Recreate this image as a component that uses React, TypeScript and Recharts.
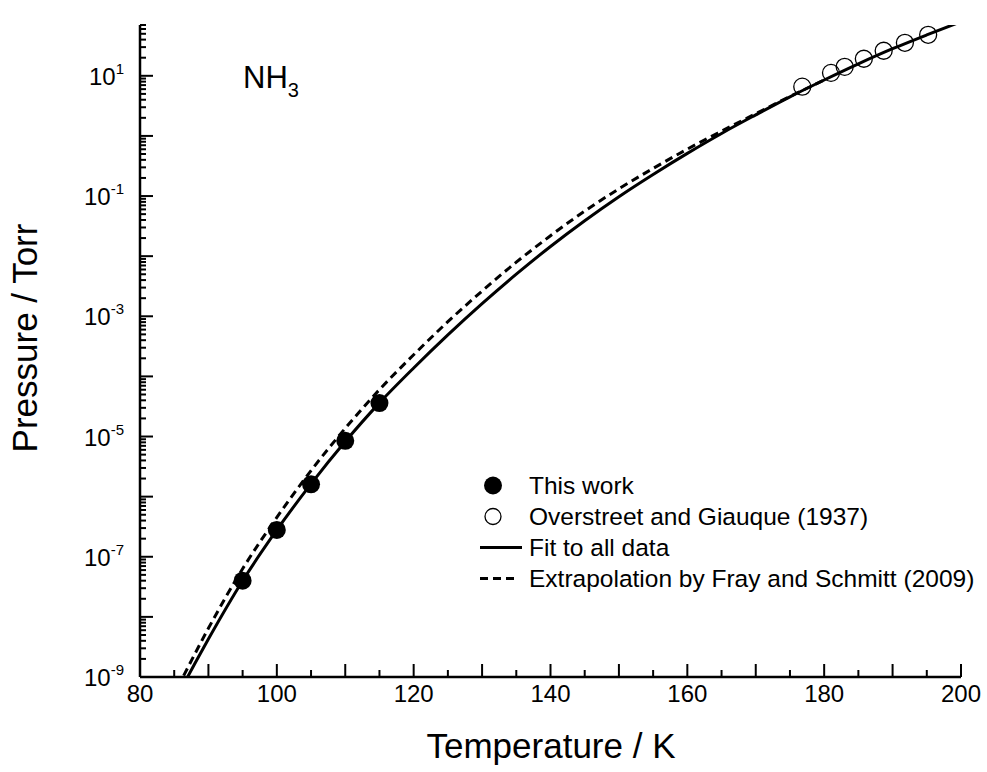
import {
  ComposedChart,
  Customized,
  Legend,
  Line,
  Scatter,
  XAxis,
  YAxis,
} from "recharts";

const FONT = "'Liberation Sans', Arial, Helvetica, sans-serif";

// fit to all data
const fitT = [86, 88, 90, 95, 100, 105, 110, 115, 120, 125, 130, 135, 140, 145, 150, 155, 160, 165, 170, 175, 180, 185, 190, 195, 200];
const fitP = [
  6.3e-10, 1.66e-9, 4.27e-9, 3.98e-8, 2.79e-7, 1.63e-6, 8.24e-6, 3.63e-5, 1.38e-4, 4.9e-4, 1.62e-3, 5.01e-3,
  1.45e-2, 3.89e-2, 9.77e-2, 0.229, 0.513, 1.1, 2.24, 4.47, 8.51, 15.8, 28.2, 47.9, 79.4,
];

// Fray and Schmitt (2009) extrapolation
const frayT = [85.5, 86, 88, 90, 95, 100, 105, 110, 115, 120, 125, 130, 135, 140, 145, 150, 155, 160, 165, 170, 175, 180];
const frayP = [
  6.8e-10, 8.7e-10, 2.4e-9, 6.46e-9, 6.31e-8, 4.52e-7, 2.71e-6, 1.37e-5, 6.03e-5, 2.29e-4, 8.13e-4, 2.63e-3,
  7.94e-3, 2.19e-2, 5.62e-2, 0.132, 0.288, 0.603, 1.2, 2.34, 4.52, 8.51,
];

const thisWorkT = [95, 100, 105, 110, 115];
const thisWorkP = [4.0e-8, 2.8e-7, 1.6e-6, 8.5e-6, 3.6e-5];

const overstreetT = [176.8, 181.0, 183.0, 185.8, 188.7, 191.8, 195.2];
const overstreetP = [6.6, 11.2, 14.1, 19.2, 26.1, 35.4, 48.1];

const xTicks = [80, 85, 90, 95, 100, 105, 110, 115, 120, 125, 130, 135, 140, 145, 150, 155, 160, 165, 170, 175, 180, 185, 190, 195, 200];
const xLabelled = [80, 100, 120, 140, 160, 180, 200];
const yDecades = [-9, -8, -7, -6, -5, -4, -3, -2, -1, 0, 1];
const yLabelled = [-9, -7, -5, -3, -1, 1];
const yMax = 70;

const yTicks: number[] = [];
yDecades.forEach((e) => {
  for (let m = 1; m <= 9; m++) {
    const v = m * Math.pow(10, e);
    if (v <= yMax) yTicks.push(v);
  }
});

const pairs = (ts: number[], ps: number[]) => ts.map((T, i) => ({ T, P: ps[i] }));

const legendRows = [
  { label: "This work", kind: "filled" },
  { label: "Overstreet and Giauque (1937)", kind: "open" },
  { label: "Fit to all data", kind: "solid" },
  { label: "Extrapolation by Fray and Schmitt (2009)", kind: "dashed" },
];

function XTick({ x, y, payload }: any) {
  const v = payload.value;
  const len = v % 10 === 0 ? 13 : 7;
  return (
    <g>
      <line x1={x} y1={y} x2={x} y2={y - len} stroke="#000" strokeWidth={2} />
      {xLabelled.includes(v) && (
        <text x={x} y={y + 25} textAnchor="middle" fontSize={24} fontFamily={FONT} fill="#000">
          {v}
        </text>
      )}
    </g>
  );
}

function YTick({ x, y, payload }: any) {
  const lg = Math.log10(payload.value);
  const e = Math.round(lg);
  const major = Math.abs(lg - e) < 1e-6;
  return (
    <g>
      <line x1={x} y1={y} x2={x + (major ? 13 : 6)} y2={y} stroke="#000" strokeWidth={2} />
      {major && yLabelled.includes(e) && (
        <text x={x - 16} y={y + 9} textAnchor="end" fontSize={24} fontFamily={FONT} fill="#000">
          10
          <tspan dy={-11} fontSize={15}>
            {e}
          </tspan>
        </text>
      )}
    </g>
  );
}

function Titles() {
  return (
    <g fontFamily={FONT} fill="#000">
      <text x={551} y={758} textAnchor="middle" fontSize={35}>
        Temperature / K
      </text>
      <text x={37} y={338} textAnchor="middle" fontSize={35} transform="rotate(-90, 37, 338)">
        Pressure / Torr
      </text>
      <text x={243} y={88} fontSize={31}>
        NH
        <tspan dy={9} fontSize={20}>
          3
        </tspan>
      </text>
    </g>
  );
}

function LegendBox() {
  return (
    <div style={{ fontFamily: FONT, fontSize: 24.5, color: "#000" }}>
      {legendRows.map((r) => (
        <div key={r.label} style={{ display: "flex", alignItems: "center", height: 31, whiteSpace: "nowrap" }}>
          <svg width={51} height={31} style={{ flex: "none" }}>
            {r.kind === "filled" && <circle cx={15} cy={15.5} r={9} fill="#000" />}
            {r.kind === "open" && <circle cx={15} cy={15.5} r={8} fill="none" stroke="#000" strokeWidth={1.3} />}
            {r.kind === "solid" && <line x1={2} y1={15.5} x2={44} y2={15.5} stroke="#000" strokeWidth={3} />}
            {r.kind === "dashed" && (
              <line x1={2} y1={15.5} x2={40} y2={15.5} stroke="#000" strokeWidth={3} strokeDasharray="8 5" />
            )}
          </svg>
          <span>{r.label}</span>
        </div>
      ))}
    </div>
  );
}

export default function App() {
  return (
    <div style={{ position: "absolute", left: 0, top: 0, background: "#fff" }}>
      <ComposedChart width={987} height={772} margin={{ top: 25, right: 26, bottom: 20, left: 0 }}>
        <XAxis
          type="number"
          dataKey="T"
          domain={[80, 200]}
          ticks={xTicks}
          interval={0}
          tickSize={0}
          tickMargin={0}
          tick={<XTick />}
          height={75}
          axisLine={{ stroke: "#000", strokeWidth: 2.5 }}
          allowDataOverflow
        />
        <YAxis
          type="number"
          dataKey="P"
          scale="log"
          domain={[1e-9, yMax]}
          ticks={yTicks}
          interval={0}
          tickSize={0}
          tickMargin={0}
          tick={<YTick />}
          width={140}
          axisLine={{ stroke: "#000", strokeWidth: 2.5 }}
          allowDataOverflow
        />
        <Line
          data={pairs(fitT, fitP)}
          dataKey="P"
          type="monotone"
          stroke="#000"
          strokeWidth={3}
          dot={false}
          isAnimationActive={false}
        />
        <Line
          data={pairs(frayT, frayP)}
          dataKey="P"
          type="monotone"
          stroke="#000"
          strokeWidth={3}
          strokeDasharray="8 5"
          dot={false}
          isAnimationActive={false}
        />
        <Scatter
          data={pairs(thisWorkT, thisWorkP)}
          dataKey="P"
          isAnimationActive={false}
          shape={(p: any) => <circle cx={p.cx} cy={p.cy} r={9} fill="#000" />}
        />
        <Scatter
          data={pairs(overstreetT, overstreetP)}
          dataKey="P"
          isAnimationActive={false}
          shape={(p: any) => <circle cx={p.cx} cy={p.cy} r={8.5} fill="none" stroke="#000" strokeWidth={1.3} />}
        />
        <Legend
          layout="horizontal"
          verticalAlign="middle"
          align="center"
          content={() => <LegendBox />}
          wrapperStyle={{ left: 478, top: 470, width: "auto", height: "auto" }}
        />
        <Customized component={Titles} />
      </ComposedChart>
    </div>
  );
}
